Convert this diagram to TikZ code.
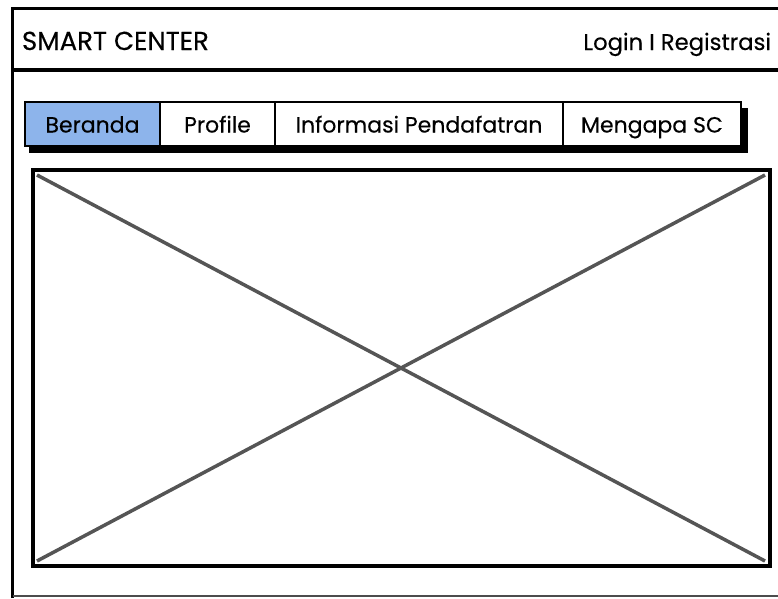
\documentclass[tikz,border=0pt]{standalone}
\usepackage{fontspec}
\setmainfont{Poppins}[FakeBold=0.3]
\usetikzlibrary{positioning,backgrounds,calc}
\definecolor{tabsel}{RGB}{141,180,235}
\definecolor{crossgray}{RGB}{85,85,85}

\begin{document}
\begin{tikzpicture}[x=1pt,y=-1pt,
  every node/.style={inner sep=0pt,outer sep=0pt},
  tab/.style={draw,line width=1.6pt,fill=white,minimum height=44pt,anchor=north west,
    font=\fontsize{22}{26}\selectfont,text height=17pt,text depth=0pt},
  frameline/.style={line width=3.5pt}]
\useasboundingbox (0,0) rectangle (778,598);
\clip (0,0) rectangle (778,598);

% page frame and header
\draw[frameline] (12.5,598) -- (12.5,8.5) -- (790,8.5);
\draw[line width=4pt] (12.5,70) -- (790,70);
\draw[line width=2pt,black!70] (12.5,595.5) -- (790,595.5);
\node[anchor=base west,font=\fontsize{26}{30}\selectfont] (title) at (22,50) {SMART CENTER};
\node[anchor=base east,font=\fontsize{22.7}{26}\selectfont] (login) at (771,50) {Login I Registrasi};

% menu tabs
\node[tab,fill=tabsel,minimum width=135pt] (beranda) at (25,102) {Beranda};
\node[tab,minimum width=115pt,anchor=west,right=0pt of beranda] (profil) {Profile};
\node[tab,minimum width=288pt,anchor=west,right=0pt of profil] (info) {Informasi Pendafatran};
\node[tab,minimum width=178pt,anchor=west,right=0pt of info] (mengapa) {Mengapa SC};
\begin{scope}[on background layer]
  \fill ($(beranda.north west)+(4,6)$) rectangle ($(mengapa.south east)+(7,7)$);
\end{scope}

% image placeholder
\node[draw,line width=3.5pt,minimum width=737pt,minimum height=396pt,anchor=north west] (banner) at (33,170) {};
\draw[line width=3.5pt,crossgray] ($(banner.north west)+(4,5)$) -- ($(banner.south east)+(-5,-5)$);
\draw[line width=3.5pt,crossgray] ($(banner.south west)+(4,-5)$) -- ($(banner.north east)+(-5,5)$);
\end{tikzpicture}
\end{document}
